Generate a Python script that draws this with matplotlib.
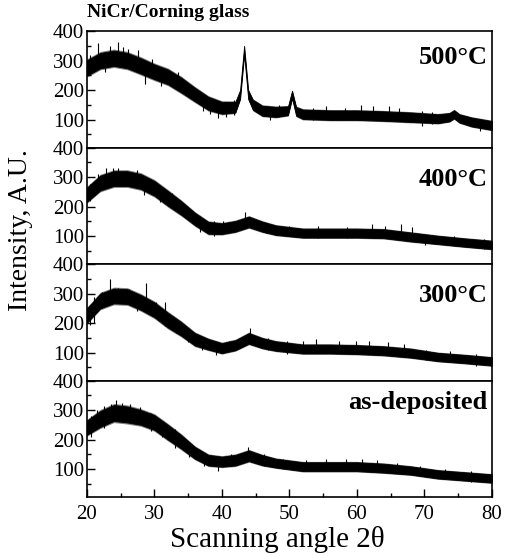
import numpy as np
import matplotlib.pyplot as plt
from matplotlib.ticker import MultipleLocator

plt.rcParams['font.family'] = ['Liberation Serif', 'DejaVu Serif']

# scan angles (2-theta, degrees) where the envelopes were sampled
angles = [20, 22, 24, 26, 28, 30, 32, 34, 36, 38, 40, 42, 44, 46, 48,
          52, 56, 60, 64, 68, 72, 76, 80]

# 500 C pattern has crystalline NiCr peaks, so it gets its own grid
angles_500 = [20, 22, 24, 26, 28, 30, 32, 34, 36, 38, 40, 42, 42.7, 43.3, 43.9,
              44.6, 46, 48, 49.8, 50.4, 51.0, 52, 56, 60, 64, 68, 72, 73.7,
              74.4, 75.2, 77, 80]
center_500 = [275, 300, 308, 300, 282, 262, 245, 217, 185, 155, 140, 142, 185,
              335, 185, 150, 130, 126, 130, 185, 128, 118, 115, 115, 112, 108,
              103, 108, 118, 104, 92, 80]
spread_500 = [26, 26, 26, 26, 26, 25, 25, 25, 23, 22, 20, 18, 15, 15, 15, 17,
              17, 17, 15, 13, 15, 16, 16, 16, 16, 16, 15, 14, 14, 14, 15, 15]

center_400 = [240, 280, 295, 295, 285, 262, 228, 195, 158, 128, 125, 133, 148,
              132, 120, 110, 110, 110, 108, 97, 87, 78, 70]
spread_400 = [24, 25, 25, 25, 25, 25, 25, 23, 21, 20, 18, 18, 18, 17, 16, 15,
              15, 15, 15, 15, 14, 14, 14]

center_300 = [225, 275, 292, 290, 270, 245, 210, 180, 145, 128, 115, 125, 148,
              132, 122, 112, 112, 110, 106, 98, 85, 78, 70]
spread_300 = [24, 25, 25, 25, 25, 25, 25, 23, 21, 18, 17, 17, 18, 17, 16, 15,
              15, 15, 15, 15, 14, 14, 14]

center_asdep = [240, 270, 290, 285, 275, 258, 225, 192, 155, 130, 125, 130, 145,
                130, 120, 108, 108, 108, 103, 95, 82, 75, 68]
spread_asdep = [24, 27, 27, 27, 25, 25, 25, 23, 20, 18, 17, 18, 18, 17, 15, 15,
                15, 15, 15, 14, 14, 14, 14]

# isolated noise spikes (angle, low, high) sticking out of the band
spikes_500 = [(20.4, 250, 320), (21.6, 300, 360), (22.7, 263, 300),
              (23.4, 300, 350), (24.6, 310, 363), (25.3, 300, 345),
              (26.1, 300, 340), (27.6, 285, 337), (28.6, 220, 270),
              (29.6, 260, 305), (31.0, 215, 255), (33.5, 210, 262),
              (36.0, 170, 203), (37.2, 130, 160), (38.2, 120, 150),
              (39.4, 105, 150), (40.6, 110, 160), (41.8, 115, 165),
              (47.2, 100, 140), (48.5, 110, 150), (53.5, 100, 140),
              (55.5, 105, 145), (58.2, 100, 140), (60.6, 105, 150),
              (62.4, 100, 145), (64.8, 100, 145), (66.3, 95, 140),
              (69.6, 80, 130), (71.2, 85, 125), (78.3, 60, 95)]
spikes_400 = [(20.5, 220, 275), (21.6, 260, 310), (22.8, 270, 330),
              (23.9, 285, 330), (24.6, 280, 330), (25.8, 270, 320),
              (27.4, 280, 325), (28.4, 240, 280), (30.8, 215, 265),
              (32.6, 200, 245), (34.4, 170, 210), (36.7, 115, 150),
              (38.8, 100, 150), (40.2, 110, 150), (43.5, 140, 180),
              (46.5, 110, 145), (50.0, 100, 135), (54.3, 95, 135),
              (58.6, 95, 132), (62.3, 100, 140), (64.2, 95, 135),
              (66.5, 95, 140), (68.2, 85, 130), (70.1, 70, 105),
              (74.4, 65, 100), (78.8, 55, 90)]
spikes_300 = [(20.4, 195, 260), (21.0, 200, 290), (22.3, 250, 305),
              (23.5, 270, 348), (24.6, 275, 320), (26.2, 270, 315),
              (27.4, 240, 280), (28.7, 260, 335), (30.2, 220, 270),
              (31.6, 190, 270), (33.2, 165, 205), (35.0, 135, 175),
              (37.0, 110, 150), (39.2, 92, 135), (41.0, 105, 140),
              (44.2, 150, 182), (46.8, 110, 150), (49.6, 95, 140),
              (52.0, 100, 140), (54.0, 100, 145), (57.3, 100, 138),
              (59.8, 95, 140), (61.8, 100, 140), (64.6, 95, 135),
              (67.0, 85, 130), (70.3, 75, 110), (73.8, 70, 105),
              (77.6, 55, 95)]
spikes_asdep = [(20.6, 210, 280), (21.5, 240, 300), (22.5, 240, 315),
                (23.6, 265, 320), (24.3, 270, 335), (25.2, 265, 325),
                (26.4, 260, 320), (27.8, 255, 310), (29.5, 230, 290),
                (31.2, 210, 262), (33.0, 170, 235), (35.1, 140, 185),
                (37.3, 110, 150), (39.5, 95, 140), (41.3, 110, 150),
                (43.8, 140, 175), (46.2, 110, 150), (49.0, 100, 135),
                (52.5, 95, 132), (55.5, 95, 135), (58.4, 95, 135),
                (60.8, 95, 135), (63.0, 90, 130), (66.0, 85, 120),
                (69.4, 75, 110), (73.0, 65, 100), (76.9, 55, 92)]

samples = ['500°C', '400°C', '300°C', 'as-deposited']
label_y = [0.77, 0.73, 0.73, 0.81]

panels = [(angles_500, center_500, spread_500, spikes_500),
          (angles, center_400, spread_400, spikes_400),
          (angles, center_300, spread_300, spikes_300),
          (angles, center_asdep, spread_asdep, spikes_asdep)]

fig, axes = plt.subplots(4, 1, figsize=(5.05, 5.56), dpi=100, sharex=True)
fig.subplots_adjust(left=0.172, right=0.974, top=0.944, bottom=0.106, hspace=0)

for ax, (x, c, s, spk), name, ly in zip(axes, panels, samples, label_y):
    x = np.array(x)
    c = np.array(c)
    s = np.array(s)
    # thin soft fringe, then the dense black noise band
    ax.fill_between(x, c - 1.2 * s, c + 1.2 * s, color='black', alpha=0.5, lw=0)
    ax.fill_between(x, c - s, c + s, color='black', lw=0.6)
    for a, lo, hi in spk:
        ax.vlines(a, lo, hi, color='black', lw=0.8)
    ax.set_xlim(20, 80)
    ax.set_ylim(5, 400)
    ax.set_yticks([100, 200, 300, 400])
    ax.yaxis.set_minor_locator(MultipleLocator(50))
    ax.tick_params(axis='y', which='major', direction='in', length=6,
                   width=1, labelsize=15, pad=2)
    ax.tick_params(axis='y', which='minor', direction='in', length=3, width=1)
    ax.tick_params(axis='x', which='both', bottom=False, labelbottom=False)
    for sp in ax.spines.values():
        sp.set_linewidth(1.2)
    ax.text(0.99, ly, name, transform=ax.transAxes, ha='right', va='center',
            fontsize=19, fontweight='bold')

bottom = axes[-1]
bottom.set_xticks([20, 30, 40, 50, 60, 70, 80])
bottom.xaxis.set_minor_locator(MultipleLocator(5))
bottom.tick_params(axis='x', which='major', bottom=True, labelbottom=True,
                   direction='in', length=6, width=1, labelsize=15, pad=6)
bottom.tick_params(axis='x', which='minor', bottom=True, direction='in',
                   length=3, width=1)

fig.text(0.55, 0.029, 'Scanning angle 2θ', ha='center', va='center',
         fontsize=21)
fig.text(0.04, 0.586, 'Intensity, A.U.', rotation=90, ha='center',
         va='center', fontsize=20)
fig.text(0.172, 0.978, 'NiCr/Corning glass', ha='left', va='center',
         fontsize=14, fontweight='bold')

plt.savefig('out.png', dpi=100)
